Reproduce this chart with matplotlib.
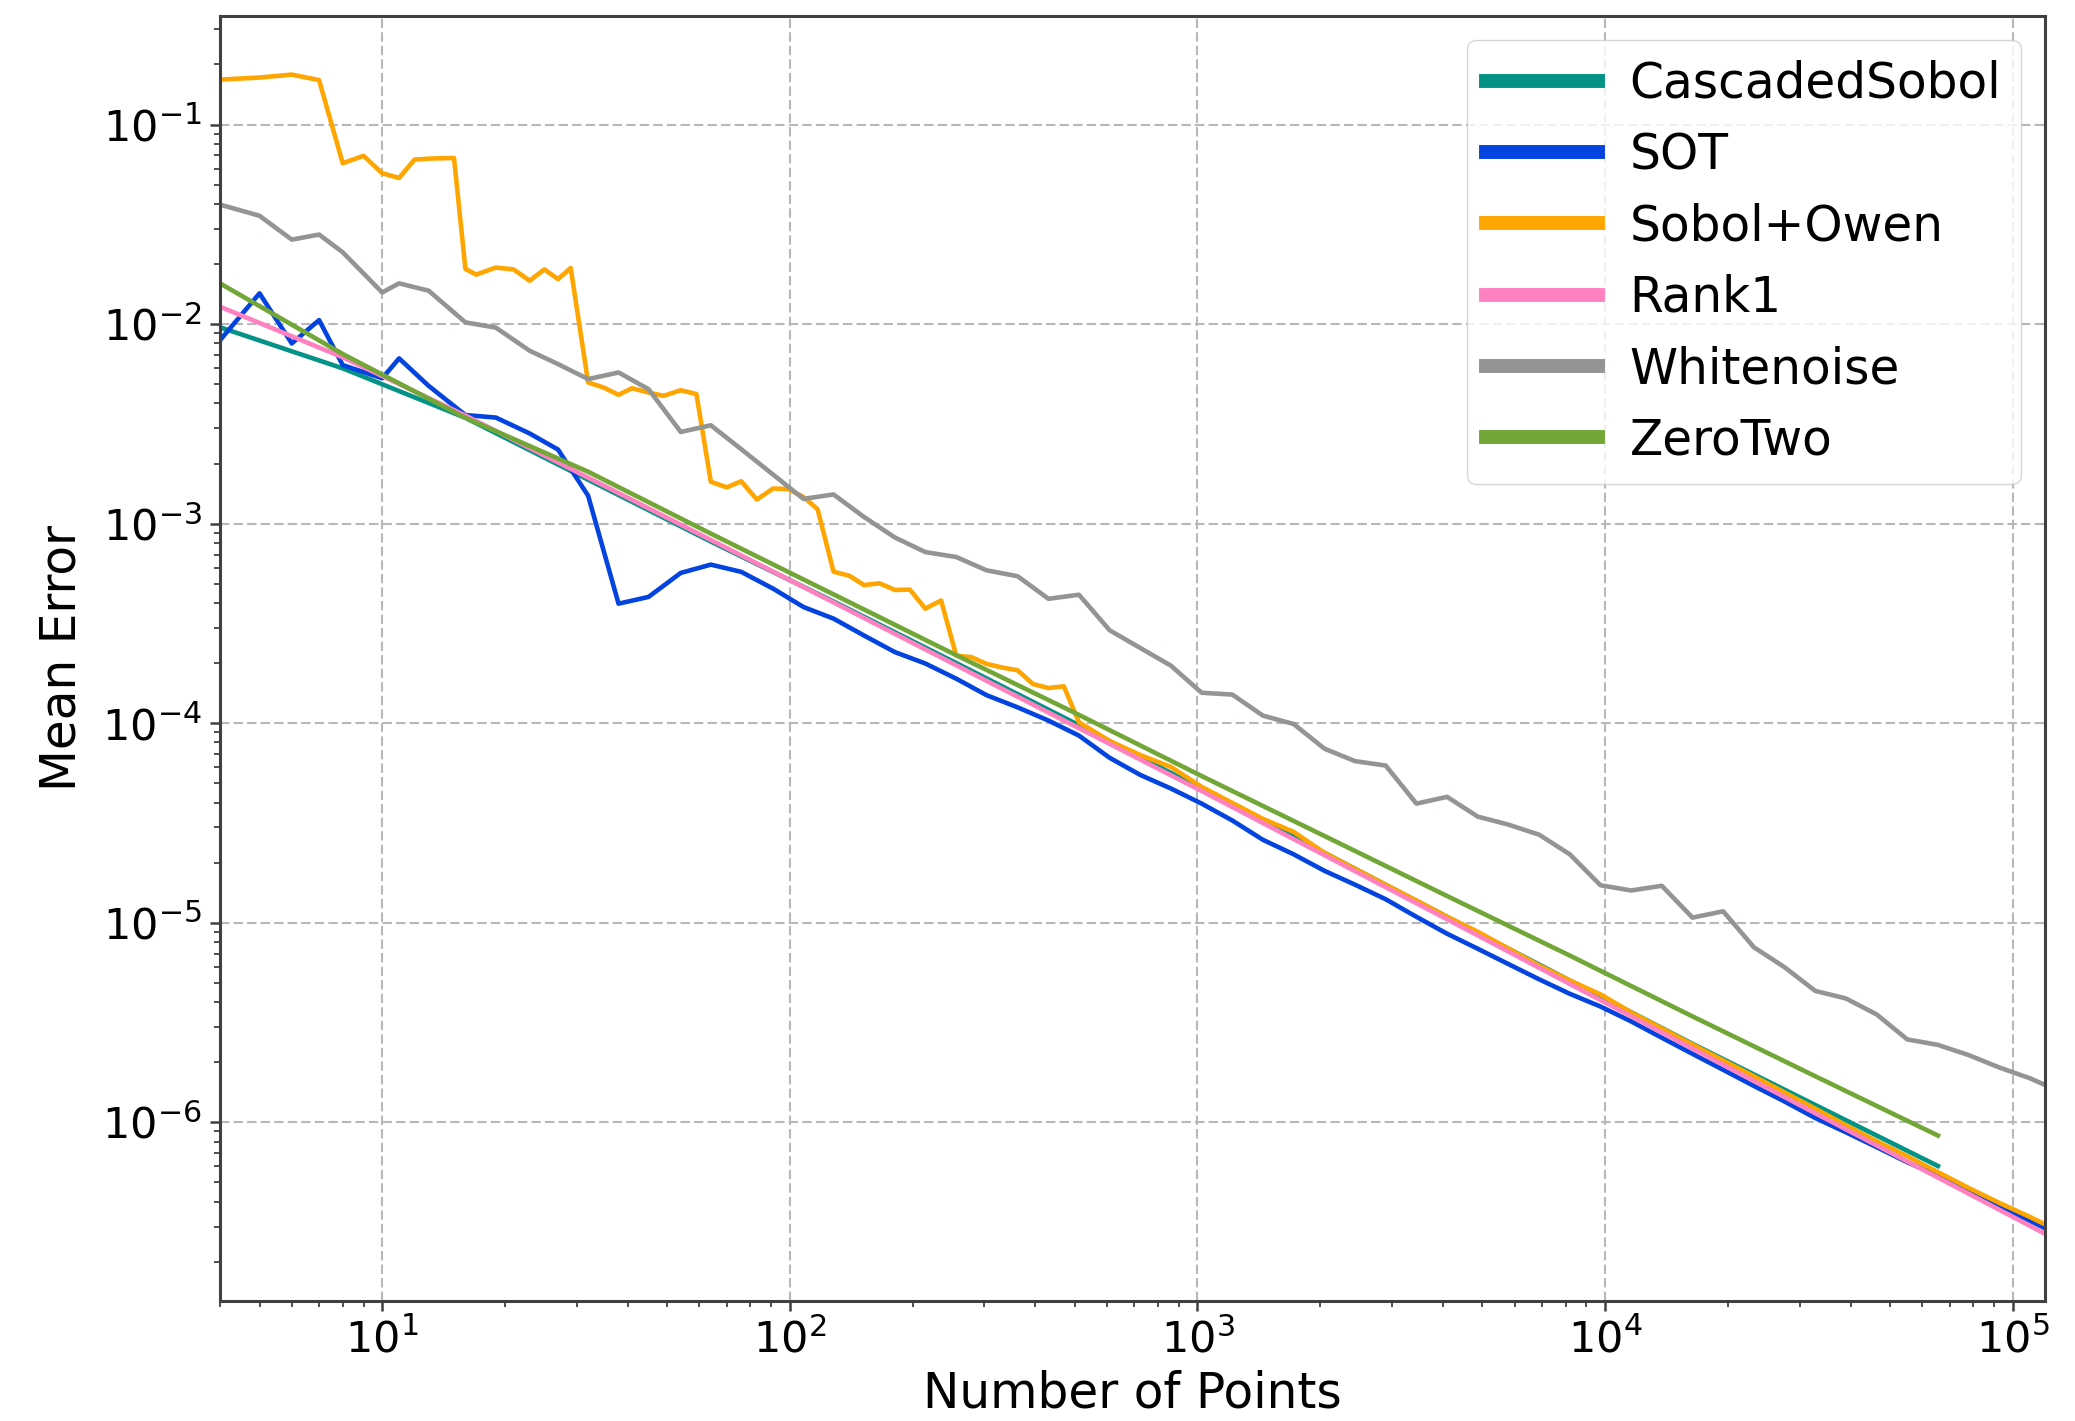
import matplotlib
matplotlib.use("Agg")
import matplotlib.pyplot as plt

# Sample counts
n_quarter = [4, 5, 6, 7, 8, 10, 11, 13, 16, 19, 23, 27, 32, 38, 45, 54, 64, 76, 91, 108,
             128, 152, 181, 215, 256, 304, 362, 431, 512, 609, 724, 861, 1024, 1218, 1448,
             1722, 2048, 2435, 2896, 3444, 4096, 4871, 5793, 6889, 8192, 9742, 11585, 13777,
             16384, 19484, 23170, 27554, 32768, 38968, 46341, 55109, 65536, 77936, 92682,
             110218, 131072]
n_pow2 = [4, 8, 16, 32, 64, 128, 256, 512, 1024, 2048, 4096, 8192, 16384, 32768, 65536]
n_pow2_ext = n_pow2 + [131072]
n_owen = [4, 5, 6, 7, 8, 9, 10, 11, 12, 13, 15, 16, 17, 19, 21, 23, 25, 27, 29, 32, 35, 38,
          41, 45, 49, 54, 59, 64, 70, 76, 83, 91, 99, 108, 117, 128, 140, 152, 166, 181, 197,
          215, 235, 256, 279, 304, 332, 362, 395, 431, 470, 512, 609, 724, 861, 1024, 1218,
          1448, 1722, 2048, 2435, 2896, 3444, 4096, 4871, 5793, 6889, 8192, 9742, 11585,
          13777, 16384, 19484, 23170, 27554, 32768, 38968, 46341, 55109, 65536, 77936, 92682,
          110218, 131072]

# Mean error per sampler
err_cascaded_sobol = [0.00964, 0.0060, 0.00339, 0.00166, 8.13e-4, 4.07e-4, 2.0e-4, 9.77e-5,
                      4.68e-5, 2.24e-5, 1.07e-5, 5.13e-6, 2.47e-6, 1.22e-6, 6.03e-7]
err_sot = [0.0083, 0.01426, 0.0080, 0.01047, 0.00623, 0.00535, 0.00673, 0.0049, 0.0035, 0.0034,
           0.00283, 0.00235, 0.00138, 3.97e-4, 4.29e-4, 5.66e-4, 6.23e-4, 5.73e-4, 4.72e-4,
           3.82e-4, 3.34e-4, 2.75e-4, 2.27e-4, 1.99e-4, 1.67e-4, 1.38e-4, 1.20e-4, 1.03e-4,
           8.66e-5, 6.7e-5, 5.5e-5, 4.7e-5, 3.95e-5, 3.25e-5, 2.6e-5, 2.2e-5, 1.82e-5, 1.55e-5,
           1.31e-5, 1.07e-5, 8.8e-6, 7.4e-6, 6.2e-6, 5.2e-6, 4.4e-6, 3.8e-6, 3.2e-6, 2.65e-6,
           2.2e-6, 1.83e-6, 1.52e-6, 1.27e-6, 1.05e-6, 8.9e-7, 7.5e-7, 6.3e-7, 5.4e-7, 4.5e-7,
           3.8e-7, 3.2e-7, 2.7e-7]
err_sobol_owen = [0.168, 0.172, 0.178, 0.167, 0.064, 0.0697, 0.057, 0.054, 0.0667, 0.0675, 0.068,
                  0.0189, 0.0177, 0.0192, 0.0188, 0.0165, 0.0188, 0.0168, 0.0191, 0.0051, 0.0048,
                  0.00442, 0.00477, 0.00454, 0.00437, 0.00466, 0.00446, 0.00162, 0.00152,
                  0.00163, 0.00132, 0.0015, 0.00149, 0.00136, 0.00118, 5.74e-4, 5.48e-4,
                  4.92e-4, 5.02e-4, 4.65e-4, 4.67e-4, 3.75e-4, 4.12e-4, 2.18e-4, 2.14e-4,
                  1.98e-4, 1.90e-4, 1.84e-4, 1.57e-4, 1.50e-4, 1.53e-4, 1.01e-4, 8.13e-5,
                  6.92e-5, 6.03e-5, 4.79e-5, 3.98e-5, 3.31e-5, 2.85e-5, 2.24e-5, 1.86e-5,
                  1.55e-5, 1.29e-5, 1.07e-5, 9.0e-6, 7.41e-6, 6.1e-6, 5.13e-6, 4.37e-6, 3.55e-6,
                  2.95e-6, 2.45e-6, 2.04e-6, 1.70e-6, 1.41e-6, 1.17e-6, 9.66e-7, 8.04e-7,
                  6.76e-7, 5.62e-7, 4.68e-7, 3.94e-7, 3.35e-7, 2.82e-7]
err_rank1 = [0.01222, 0.00682, 0.00348, 0.0017, 8.28e-4, 4.03e-4, 1.95e-4, 9.44e-5, 4.57e-5,
             2.18e-5, 1.04e-5, 4.93e-6, 2.34e-6, 1.11e-6, 5.28e-7, 2.51e-7]
err_whitenoise = [0.0397, 0.0349, 0.0265, 0.0281, 0.0229, 0.0144, 0.0160, 0.0147, 0.0102, 0.0096,
                  0.00735, 0.0063, 0.0053, 0.00572, 0.00472, 0.00288, 0.00311, 0.00236, 0.00176,
                  0.00133, 0.00140, 0.00108, 8.52e-4, 7.2e-4, 6.8e-4, 5.83e-4, 5.45e-4, 4.2e-4,
                  4.4e-4, 2.92e-4, 2.38e-4, 1.94e-4, 1.42e-4, 1.39e-4, 1.09e-4, 9.9e-5, 7.45e-5,
                  6.45e-5, 6.13e-5, 3.95e-5, 4.27e-5, 3.4e-5, 3.1e-5, 2.76e-5, 2.2e-5, 1.54e-5,
                  1.45e-5, 1.53e-5, 1.06e-5, 1.14e-5, 7.53e-6, 5.98e-6, 4.55e-6, 4.17e-6, 3.47e-6,
                  2.6e-6, 2.44e-6, 2.17e-6, 1.88e-6, 1.66e-6, 1.42e-6]
err_zerotwo = [0.016, 0.00708, 0.00339, 0.00182, 8.91e-4, 4.42e-4, 2.19e-4, 1.10e-4, 5.43e-5,
               2.72e-5, 1.36e-5, 6.84e-6, 3.39e-6, 1.70e-6, 8.57e-7]

series = [
    ("CascadedSobol", n_pow2, err_cascaded_sobol, "#029386"),
    ("SOT", n_quarter, err_sot, "#0343df"),
    ("Sobol+Owen", n_owen, err_sobol_owen, "#ffa500"),
    ("Rank1", n_pow2_ext, err_rank1, "#ff81c0"),
    ("Whitenoise", n_quarter, err_whitenoise, "#929591"),
    ("ZeroTwo", n_pow2, err_zerotwo, "#72a636"),
]

W, H = 2075, 1421
fig = plt.figure(figsize=(W / 100, H / 100), dpi=100)
left, right, top, bottom = 220, 2045, 16, 1301
ax = fig.add_axes([left / W, 1 - bottom / H, (right - left) / W, (bottom - top) / H])

for name, xs, ys, col in series:
    ax.plot(xs, ys, color=col, lw=3.3, label=name)

ax.set_xscale("log")
ax.set_yscale("log")
ax.set_xlim(4, 1.2e5)
ax.set_ylim(1.27e-7, 0.35)

ax.grid(True, which="major", linestyle=(0, (4.5, 2)), color="#b8b8b8", lw=1.5)
ax.set_axisbelow(True)

for sp in ax.spines.values():
    sp.set_linewidth(2.2)
    sp.set_color("#404040")

ax.tick_params(axis="both", which="major", labelsize=31, length=7, width=1.8,
               color="#404040", pad=6)
ax.tick_params(axis="both", which="minor", length=4, width=1.3, color="#404040")

ax.set_xlabel("Number of Points", fontsize=35, labelpad=6)
ax.set_ylabel("Mean Error", fontsize=35, labelpad=12)

leg = ax.legend(loc="upper right", fontsize=35, handlelength=2.3, labelspacing=0.48,
                handletextpad=0.65, borderpad=0.4, borderaxespad=0.5, fancybox=True)
for line in leg.get_lines():
    line.set_linewidth(10)

fig.savefig("out.png", dpi=100)
